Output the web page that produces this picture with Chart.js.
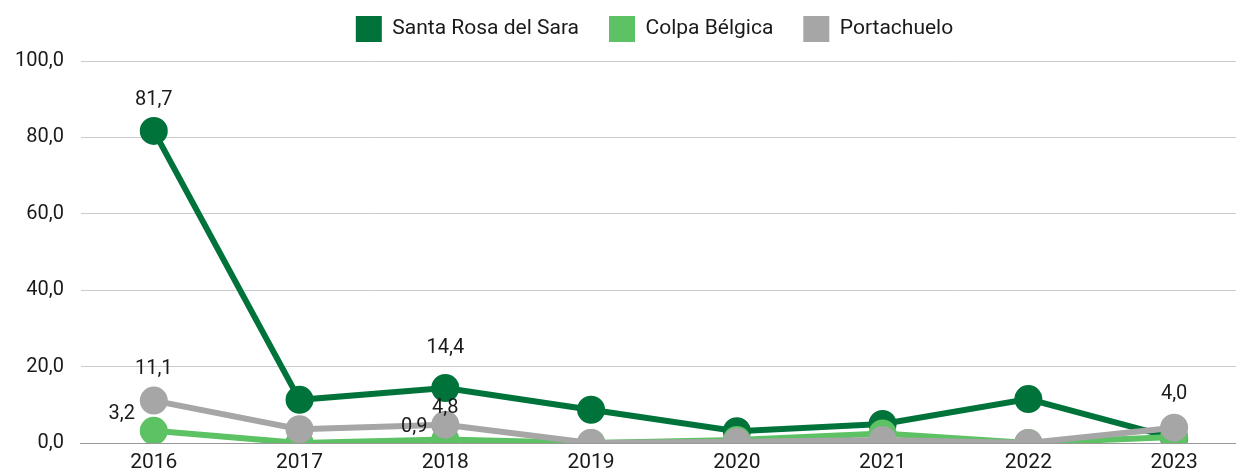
<!DOCTYPE html>
<html>
<head>
<meta charset="utf-8">
<script src="https://cdn.jsdelivr.net/npm/chart.js@4.4.0/dist/chart.umd.min.js"></script>
<style>
  html, body { margin: 0; padding: 0; background: #fff; overflow: hidden; }
</style>
</head>
<body>
<canvas id="chart" width="1264" height="472"></canvas>
<script>
const years = ['2016', '2017', '2018', '2019', '2020', '2021', '2022', '2023'];
const santaRosa = [81.7, 11.3, 14.4, 8.7, 3.1, 5.0, 11.5, 1.3];
const colpaBelgica = [3.2, 0.0, 0.9, 0.0, 0.8, 2.5, 0.0, 1.6];
const portachuelo = [11.1, 3.6, 4.8, 0.0, 0.3, 0.8, 0.0, 4.0];
const yTicks = [0, 20, 40, 60, 80, 100];

// which point labels are shown, with their offset from the point
const shownLabels = [
    { ds: 0, i: 0, dx: 0, dy: -31 },
    { ds: 0, i: 2, dx: 0, dy: -40 },
    { ds: 1, i: 0, dx: -32, dy: -17 },
    { ds: 1, i: 2, dx: -31, dy: -13 },
    { ds: 2, i: 0, dx: 0, dy: -32 },
    { ds: 2, i: 2, dx: 0, dy: -17 },
    { ds: 2, i: 7, dx: 0, dy: -34 }
];

const fmt = v => v.toFixed(1).replace('.', ',');

const pointLabels = {
    id: 'pointLabels',
    afterDatasetsDraw(chart) {
        const ctx = chart.ctx;
        ctx.save();
        ctx.font = '20px Roboto';
        ctx.fillStyle = '#1a1a1a';
        ctx.textAlign = 'center';
        ctx.textBaseline = 'middle';
        shownLabels.forEach(l => {
            const pt = chart.getDatasetMeta(l.ds).data[l.i];
            const v = chart.data.datasets[l.ds].data[l.i];
            ctx.fillText(fmt(v), pt.x + l.dx, pt.y + l.dy);
        });
        ctx.restore();
    }
};

// keep the legend high and compact, centred over the plot
const legendTweak = {
    id: 'legendTweak',
    beforeInit(chart) {
        const lg = chart.legend;
        const fit = lg.fit;
        lg.fit = function () { fit.call(this); this.height = 61; };
        const draw = lg.draw;
        lg.draw = function () {
            const ctx = this.ctx;
            ctx.save();
            ctx.translate(26, -14);
            draw.call(this);
            ctx.restore();
        };
    }
};

const mk = (label, data, color, order) => ({
    label: label,
    data: data,
    borderColor: color,
    backgroundColor: color,
    pointBackgroundColor: color,
    pointBorderColor: color,
    borderWidth: 6,
    pointRadius: 11,
    pointHoverRadius: 11,
    tension: 0,
    order: order
});

new Chart(document.getElementById('chart'), {
    type: 'line',
    data: {
        labels: years,
        datasets: [
            mk('Santa Rosa del Sara', santaRosa, '#00733b', 2),
            mk('Colpa Bélgica', colpaBelgica, '#5cc264', 1),
            mk('Portachuelo', portachuelo, '#a6a6a6', 0)
        ]
    },
    options: {
        responsive: false,
        animation: false,
        layout: { padding: { left: -2, right: 5, top: 0, bottom: -20 } },
        plugins: {
            legend: {
                position: 'top',
                labels: {
                    sort: (a, b) => a.datasetIndex - b.datasetIndex,
                    generateLabels: chart => Chart.defaults.plugins.legend.labels
                        .generateLabels(chart).map(l => Object.assign(l, { lineWidth: 0 })),
                    boxWidth: 26,
                    boxHeight: 26,
                    padding: 30,
                    color: '#1a1a1a',
                    font: { family: 'Roboto', size: 21 }
                }
            },
            tooltip: { enabled: false }
        },
        scales: {
            x: {
                offset: true,
                grid: { display: false, drawTicks: false },
                border: { color: '#999', width: 1 },
                ticks: { color: '#1a1a1a', padding: 7, font: { family: 'Roboto', size: 21 } }
            },
            y: {
                min: 0,
                max: 100,
                afterBuildTicks: axis => { axis.ticks = yTicks.map(v => ({ value: v })); },
                grid: { color: '#cccccc', drawTicks: false },
                border: { display: false },
                ticks: {
                    color: '#1a1a1a',
                    padding: 17,
                    font: { family: 'Roboto', size: 20 },
                    callback: v => fmt(v)
                }
            }
        }
    },
    plugins: [pointLabels, legendTweak]
});
</script>
</body>
</html>
